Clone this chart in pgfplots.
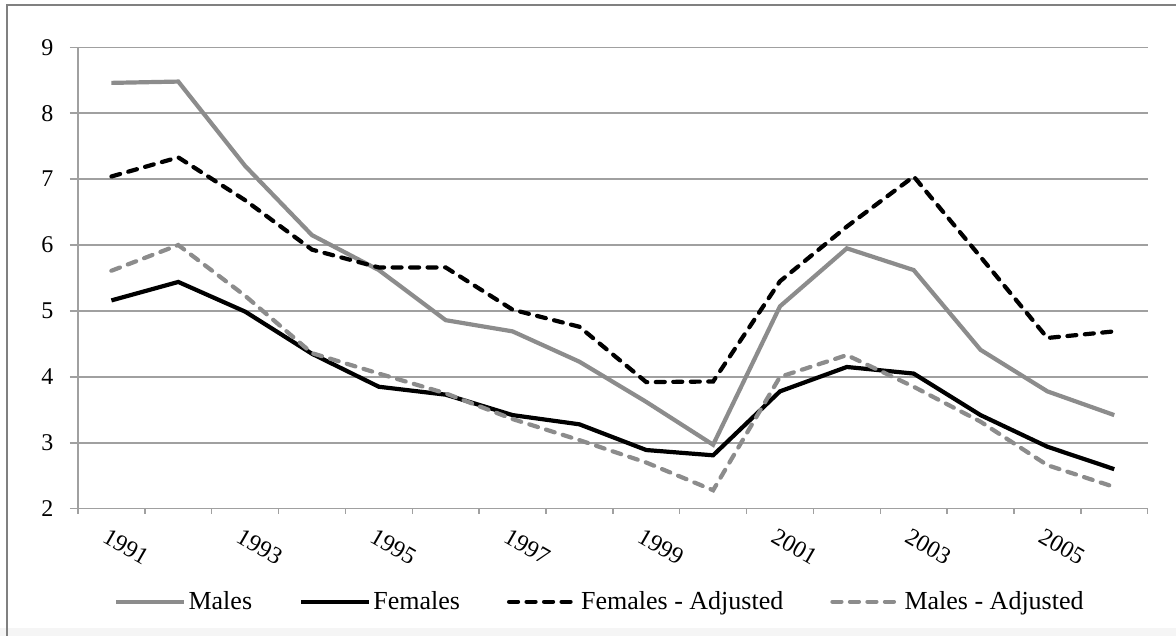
\documentclass[border=0pt]{standalone}
\usepackage{pgfplots}
\pgfplotsset{compat=1.18}
\usepackage{fontspec}
\setmainfont{Liberation Serif}
\definecolor{gridc}{RGB}{160,160,160}
\definecolor{mgray}{RGB}{140,140,140}
\definecolor{framec}{RGB}{128,128,128}
\begin{document}
\begin{tikzpicture}
\clip (0,0) rectangle (1176pt,636pt);
\fill[white] (0,0) rectangle (1176pt,636pt);
\fill[black!4] (0,0) rectangle (1176pt,8pt);
\draw[framec,line width=2pt] (7pt,-10pt) -- (7pt,631.3pt) -- (1190pt,631.3pt);
\begin{axis}[
  at={(78pt,127.3pt)}, anchor=south west,
  scale only axis, width=1069.7pt, height=461.4pt,
  xmin=0, xmax=16, ymin=2, ymax=9,
  axis lines=left,
  axis line style={-, draw=gridc, line width=1.5pt},
  ytick={2,3,...,9},
  xtick={0.5,2.5,...,14.5},
  xticklabels={1991,1993,1995,1997,1999,2001,2003,2005},
  minor xtick={0,1,...,16},
  major x tick style={draw=none},
  tick style={draw=gridc, line width=1.5pt},
  tick align=outside,
  major tick length=8pt, minor tick length=5pt,
  ymajorgrids, grid style={draw=gridc, line width=1.5pt},
  /pgf/number format/assume math mode=true,
  ticklabel style={font=\fontsize{24pt}{28pt}\selectfont},
  xticklabel style={rotate=-30, anchor=north west, yshift=-7pt, xshift=0pt},
  yticklabel style={xshift=-13pt},
  legend columns=4,
  legend style={at={(0.488,-0.2016)}, anchor=center, draw=none, fill=none,
    font=\fontsize{26pt}{30pt}\selectfont,
    /tikz/every even column/.append style={column sep=45pt}},
  legend image code/.code={\draw[#1] (0pt,0pt) -- (68pt,0pt);},
]
\addplot[mgray, line width=4.2pt] coordinates {
(0.5,8.46) (1.5,8.48) (2.5,7.20) (3.5,6.15) (4.5,5.62) (5.5,4.86) (6.5,4.69) (7.5,4.23)
(8.5,3.62) (9.5,2.97) (10.5,5.07) (11.5,5.95) (12.5,5.62) (13.5,4.41) (14.5,3.78) (15.5,3.42)};
\addlegendentry{Males}
\addplot[black, line width=4.2pt] coordinates {
(0.5,5.16) (1.5,5.44) (2.5,4.99) (3.5,4.35) (4.5,3.85) (5.5,3.73) (6.5,3.42) (7.5,3.28)
(8.5,2.89) (9.5,2.81) (10.5,3.78) (11.5,4.15) (12.5,4.05) (13.5,3.42) (14.5,2.94) (15.5,2.60)};
\addlegendentry{Females}
\addplot[black, line width=4.2pt, line cap=round, dash pattern=on 9pt off 8.5pt] coordinates {
(0.5,7.04) (1.5,7.33) (2.5,6.68) (3.5,5.93) (4.5,5.66) (5.5,5.66) (6.5,5.02) (7.5,4.76)
(8.5,3.92) (9.5,3.93) (10.5,5.45) (11.5,6.28) (12.5,7.04) (13.5,5.82) (14.5,4.59) (15.5,4.69)};
\addlegendentry{Females - Adjusted}
\addplot[mgray, line width=4.2pt, line cap=round, dash pattern=on 9pt off 8.5pt] coordinates {
(0.5,5.61) (1.5,6.00) (2.5,5.23) (3.5,4.36) (4.5,4.05) (5.5,3.75) (6.5,3.36) (7.5,3.04)
(8.5,2.70) (9.5,2.28) (10.5,4.00) (11.5,4.33) (12.5,3.85) (13.5,3.32) (14.5,2.66) (15.5,2.33)};
\addlegendentry{Males - Adjusted}
\end{axis}
\end{tikzpicture}
\end{document}
